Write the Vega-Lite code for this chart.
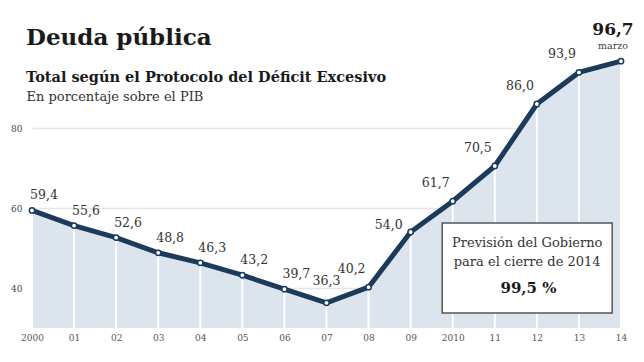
{
  "$schema": "https://vega.github.io/schema/vega-lite/v6.json",
  "width": 589,
  "height": 280,
  "autosize": {"type": "none"},
  "padding": {"top": 48, "left": 32, "right": 23, "bottom": 34},
  "background": "white",
  "config": {
    "locale": {"number": {"decimal": ",", "thousands": ".", "grouping": [3], "currency": ["", " €"]}},
    "view": {"stroke": null},
    "font": "DejaVu Serif"
  },
  "title": {
    "text": "Deuda pública",
    "subtitle": "Total según el Protocolo del Déficit Excesivo",
    "anchor": "start",
    "frame": "group",
    "dx": -6,
    "offset": -63,
    "font": "DejaVu Serif",
    "fontSize": 23,
    "fontWeight": "bold",
    "color": "#1a1a1a",
    "subtitleFont": "DejaVu Serif",
    "subtitleFontSize": 14.5,
    "subtitleFontWeight": "bold",
    "subtitleColor": "#1a1a1a",
    "subtitlePadding": 21
  },
  "data": {
    "values": [
      {"anio": 2000, "deuda": 59.4},
      {"anio": 2001, "deuda": 55.6},
      {"anio": 2002, "deuda": 52.6},
      {"anio": 2003, "deuda": 48.8},
      {"anio": 2004, "deuda": 46.3},
      {"anio": 2005, "deuda": 43.2},
      {"anio": 2006, "deuda": 39.7},
      {"anio": 2007, "deuda": 36.3},
      {"anio": 2008, "deuda": 40.2},
      {"anio": 2009, "deuda": 54.0},
      {"anio": 2010, "deuda": 61.7},
      {"anio": 2011, "deuda": 70.5},
      {"anio": 2012, "deuda": 86.0},
      {"anio": 2013, "deuda": 93.9},
      {"anio": 2014, "deuda": 96.7}
    ]
  },
  "encoding": {
    "x": {
      "field": "anio",
      "type": "quantitative",
      "scale": {"domain": [2000, 2014], "nice": false, "zero": false},
      "axis": {
        "title": null,
        "values": [2000, 2001, 2002, 2003, 2004, 2005, 2006, 2007, 2008, 2009, 2010, 2011, 2012, 2013, 2014],
        "labelExpr": "datum.value == 2000 || datum.value == 2010 ? '' + datum.value : (datum.value % 100 < 10 ? '0' + (datum.value % 100) : '' + (datum.value % 100))",
        "grid": false,
        "ticks": false,
        "domain": false,
        "labelPadding": 5,
        "labelFont": "DejaVu Serif",
        "labelFontSize": 9,
        "labelColor": "#555555",
        "labelFlush": false,
        "labelOverlap": false
      }
    },
    "y": {
      "field": "deuda",
      "type": "quantitative",
      "scale": {"domain": [30, 100], "nice": false, "zero": false},
      "axis": {
        "title": "En porcentaje sobre el PIB",
        "titleAngle": 0,
        "titleAlign": "left",
        "titleBaseline": "alphabetic",
        "titleX": -6,
        "titleY": 52,
        "titleFont": "DejaVu Serif",
        "titleFontSize": 13,
        "titleFontWeight": "normal",
        "titleColor": "#333333",
        "values": [40, 60, 80],
        "grid": true,
        "gridColor": "#e6e6e6",
        "gridWidth": 1.5,
        "ticks": false,
        "domain": false,
        "labelPadding": 10,
        "labelFont": "DejaVu Serif",
        "labelFontSize": 9,
        "labelColor": "#444444"
      }
    }
  },
  "layer": [
    {
      "mark": {"type": "area", "color": "#dce4ed", "opacity": 1},
      "encoding": {"y2": {"datum": 30}}
    },
    {
      "mark": {"type": "rule", "color": "white", "strokeWidth": 2},
      "encoding": {"y": {"datum": 30, "type": "quantitative"}, "y2": {"field": "deuda"}}
    },
    {"mark": {"type": "line", "color": "#1c3a5a", "strokeWidth": 5}},
    {
      "mark": {"type": "point", "filled": true, "fill": "white", "stroke": "#1c3a5a", "strokeWidth": 1.5, "size": 28, "opacity": 1}
    },
    {
      "transform": [{"filter": "datum.anio <= 2006"}],
      "mark": {"type": "text", "align": "left", "baseline": "alphabetic", "dx": -2, "dy": -11, "fontSize": 12.5, "color": "#333333", "font": "DejaVu Serif"},
      "encoding": {"text": {"field": "deuda", "type": "quantitative", "format": ".1f"}}
    },
    {
      "transform": [{"filter": "datum.anio == 2007"}],
      "mark": {"type": "text", "align": "center", "baseline": "alphabetic", "dx": 0, "dy": -18, "fontSize": 12.5, "color": "#333333", "font": "DejaVu Serif"},
      "encoding": {"text": {"field": "deuda", "type": "quantitative", "format": ".1f"}}
    },
    {
      "transform": [{"filter": "datum.anio == 2008 || (datum.anio >= 2010 && datum.anio <= 2013)"}],
      "mark": {"type": "text", "align": "right", "baseline": "alphabetic", "dx": -3, "dy": -14, "fontSize": 12.5, "color": "#333333", "font": "DejaVu Serif"},
      "encoding": {"text": {"field": "deuda", "type": "quantitative", "format": ".1f"}}
    },
    {
      "transform": [{"filter": "datum.anio == 2009"}],
      "mark": {"type": "text", "align": "right", "baseline": "alphabetic", "dx": -8, "dy": -3, "fontSize": 12.5, "color": "#333333", "font": "DejaVu Serif"},
      "encoding": {"text": {"field": "deuda", "type": "quantitative", "format": ".1f"}}
    },
    {
      "transform": [{"filter": "datum.anio == 2014"}],
      "mark": {"type": "text", "align": "center", "baseline": "alphabetic", "dx": -8, "dy": -26, "fontSize": 17, "fontWeight": "bold", "color": "#1a1a1a", "font": "DejaVu Serif"},
      "encoding": {"text": {"field": "deuda", "type": "quantitative", "format": ".1f"}}
    },
    {
      "transform": [{"filter": "datum.anio == 2014"}],
      "mark": {"type": "text", "align": "center", "baseline": "alphabetic", "dx": -8, "dy": -12, "fontSize": 9.5, "color": "#444444", "font": "DejaVu Serif"},
      "encoding": {"text": {"value": "marzo"}}
    },
    {
      "transform": [{"filter": "datum.anio == 2014"}],
      "mark": {"type": "rect", "fill": "white", "stroke": "#555555", "strokeWidth": 1.5},
      "encoding": {
        "x": {"datum": 2009.75, "type": "quantitative"},
        "x2": {"datum": 2013.79},
        "y": {"datum": 56.25, "type": "quantitative"},
        "y2": {"datum": 33.75}
      }
    },
    {
      "transform": [{"filter": "datum.anio == 2014"}],
      "mark": {"type": "text", "align": "center", "baseline": "middle", "fontSize": 13, "lineHeight": 19, "color": "#333333", "font": "DejaVu Serif"},
      "encoding": {
        "x": {"datum": 2011.77, "type": "quantitative"},
        "y": {"datum": 51.2, "type": "quantitative"},
        "text": {"value": ["Previsión del Gobierno", "para el cierre de 2014"]}
      }
    },
    {
      "transform": [{"filter": "datum.anio == 2014"}],
      "mark": {"type": "text", "align": "center", "baseline": "middle", "fontSize": 15, "fontWeight": "bold", "color": "#1a1a1a", "font": "DejaVu Serif"},
      "encoding": {
        "x": {"datum": 2011.8, "type": "quantitative"},
        "y": {"datum": 40, "type": "quantitative"},
        "text": {"value": "99,5 %"}
      }
    }
  ]
}
